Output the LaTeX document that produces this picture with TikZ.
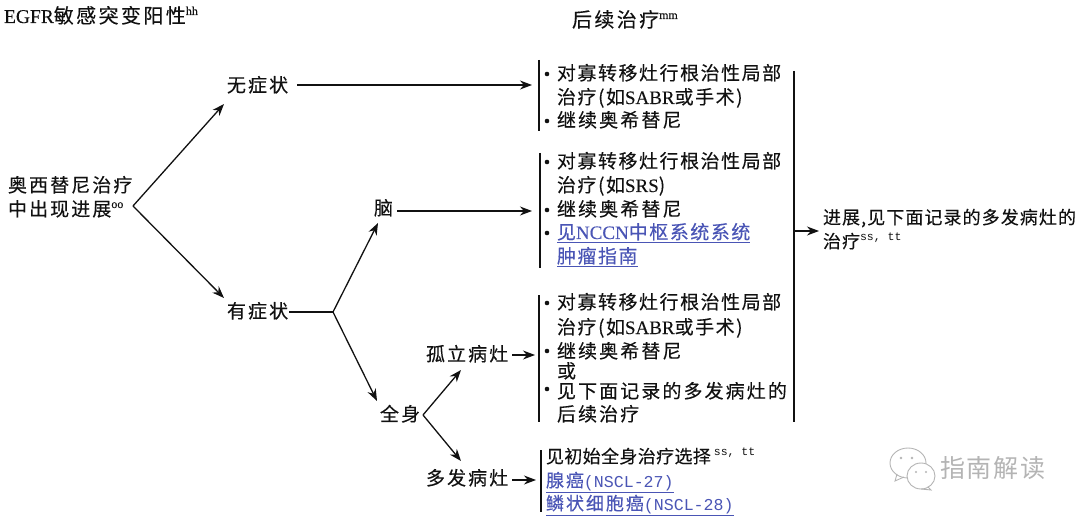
\documentclass[tikz,border=0pt]{standalone}
\usepackage{fontspec}
\setmainfont{Noto Sans CJK SC}[LetterSpace=8,FakeBold=0.25]
\newfontfamily\widecjk{Noto Sans CJK SC}[LetterSpace=11,FakeBold=0.25]
\newfontfamily\narrowcjk{Noto Sans CJK SC}[LetterSpace=6,FakeBold=0.25]
\newfontfamily\tightcjk{Noto Sans CJK SC}[LetterSpace=2,FakeBold=0.25]
\newfontfamily\headcjk{Noto Sans CJK SC}[LetterSpace=12,FakeBold=0.25]
\newfontfamily\wmcjk{Noto Sans CJK SC}[LetterSpace=7]
\newfontfamily\lat{Liberation Serif}[FakeBold=0.2]
\newfontfamily\mon{Liberation Mono}
\usetikzlibrary{arrows.meta}
\definecolor{linkblue}{HTML}{4A55B5}
\definecolor{ink}{HTML}{111111}
\definecolor{wm}{HTML}{B4B4B4}
\newcommand{\La}[1]{{\lat #1}}
\newcommand{\Mo}[1]{{\fontsize{16.6}{16.6}\selectfont\mon #1}}
\newcommand{\Sp}[1]{\raisebox{8pt}{\fontsize{12}{12}\selectfont\lat #1}}
\newcommand{\Sm}{\raisebox{8pt}{\fontsize{11.5}{11.5}\selectfont\mon ss, tt}}
\tikzset{
  x=1pt,y=-1pt,
  tx/.style={anchor=base west,inner sep=0pt,outer sep=0pt,text=ink,font=\fontsize{19}{19}\selectfont},
  txw/.style={tx,font=\fontsize{19}{19}\selectfont\widecjk},
  txn/.style={tx,font=\fontsize{18}{18}\selectfont\narrowcjk},
  txt/.style={tx,font=\fontsize{18}{18}\selectfont\tightcjk},
  head/.style={tx,font=\fontsize{20}{20}\selectfont\headcjk},
  lnk/.style={tx,text=linkblue},
  lnkt/.style={lnk,font=\fontsize{18}{18}\selectfont\widecjk},
  bul/.style={circle,fill=ink,inner sep=0pt,minimum size=4.6pt},
  bar/.style={draw=ink,line width=1.4pt},
  ln/.style={draw=ink,line width=1.3pt},
  arr/.style={ln,-{Stealth[length=12pt,width=9pt]}},
  wmtx/.style={anchor=base west,inner sep=0pt,text=wm,font=\fontsize{25}{25}\selectfont\wmcjk},
}
\begin{document}
\begin{tikzpicture}
\useasboundingbox (0,0) rectangle (1080,516);
% headers
\node[head] (h1) at (4,23) {\La{\fontsize{19.5}{19.5}\selectfont EGFR}敏感突变阳性\Sp{hh}};
\node[head] (h2) at (572,27) {后续治疗\Sp{mm}};
% left labels
\node[txw] (root1) at (8,192) {奥西替尼治疗};
\node[txw] (root2) at (8,216) {中出现进展\Sp{oo}};
\node[txw] (asym) at (227,92) {无症状};
\node[txw] (sym) at (227,318) {有症状};
\node[txw] (brain) at (374,215) {脑};
\node[txw] (sys) at (380,421) {全身};
\node[txw] (iso) at (426,361) {孤立病灶};
\node[txw] (multi) at (426,485) {多发病灶};
% group 1
\node[bul] (b1) at (547,74) {};
\node[tx] (a1) at (557,80) {对寡转移灶行根治性局部};
\node[tx] (a2) at (557,104) {治疗(如\La{SABR}或手术)};
\node[bul] (b2) at (547,121) {};
\node[txw] (a3) at (557,127) {继续奥希替尼};
% group 2
\node[bul] (b3) at (547,162) {};
\node[tx] (c1) at (557,168) {对寡转移灶行根治性局部};
\node[tx] (c2) at (557,192) {治疗(如\La{SRS})};
\node[bul] (b4) at (547,210) {};
\node[txw] (c3) at (557,216) {继续奥希替尼};
\node[bul] (b5) at (547,233) {};
\node[lnk] (c4) at (557,239) {\underline{见\La{NCCN}中枢系统系统}};
\node[lnk] (c5) at (557,263) {\underline{肿瘤指南}};
% group 3
\node[bul] (b6) at (547,303) {};
\node[tx] (d1) at (557,309) {对寡转移灶行根治性局部};
\node[tx] (d2) at (557,334) {治疗(如\La{SABR}或手术)};
\node[bul] (b7) at (547,351) {};
\node[txw] (d3) at (557,358) {继续奥希替尼};
\node[tx] (d4) at (557,378) {或};
\node[bul] (b8) at (547,389) {};
\node[txw] (d5) at (557,398) {见下面记录的多发病灶的};
\node[txw] (d6) at (557,421) {后续治疗};
% group 4
\node[txt] (e1) at (546,463) {见初始全身治疗选择\,\Sm};
\node[lnkt] (e2) at (546,487) {\underline{腺癌\Mo{(NSCL-27)}}};
\node[lnkt] (e3) at (546,510) {\underline{鳞状细胞癌\Mo{(NSCL-28)}}};
% right
\node[txn] (r1) at (823,224) {进展,见下面记录的多发病灶的};
\node[txn] (r2) at (823,248) {治疗\Sm};
% junctions
\coordinate (f0) at (133,206);
\coordinate (f1) at (333,312);
\coordinate (f2) at (423,415);
\coordinate (g1t) at (539,60);   \coordinate (g1b) at (539,131); \coordinate (g1m) at (532,85);
\coordinate (g2t) at (540,153);  \coordinate (g2b) at (540,268); \coordinate (g2m) at (532,211);
\coordinate (g3t) at (539,295);  \coordinate (g3b) at (539,422); \coordinate (g3m) at (535,355);
\coordinate (g4t) at (541,450);  \coordinate (g4b) at (541,512); \coordinate (g4m) at (536,480);
\coordinate (mt) at (794,71); \coordinate (mb) at (794,422); \coordinate (mm) at (794,231); \coordinate (mr) at (819,231);
\coordinate (s1) at (297,85); \coordinate (s2) at (397,211); \coordinate (s3) at (289,312);
\coordinate (s4) at (512,355); \coordinate (s5) at (512,480);
\coordinate (t1) at (224,104); \coordinate (t2) at (224,298); \coordinate (t3) at (378,223);
\coordinate (t4) at (377,401); \coordinate (t5) at (461,370); \coordinate (t6) at (461,461);
% connectors
\draw[bar] (g1t) -- (g1b);
\draw[bar] (g2t) -- (g2b);
\draw[bar] (g3t) -- (g3b);
\draw[bar] (g4t) -- (g4b);
\draw[bar] (mt) -- (mb);
\draw[arr] (mm) -- (mr);
\draw[arr] (f0) -- (t1);
\draw[arr] (f0) -- (t2);
\draw[arr] (s1) -- (g1m);
\draw[arr] (s2) -- (g2m);
\draw[ln] (s3) -- (f1);
\draw[arr] (f1) -- (t3);
\draw[arr] (f1) -- (t4);
\draw[arr] (f2) -- (t5);
\draw[arr] (f2) -- (t6);
\draw[arr] (s4) -- (g3m);
\draw[arr] (s5) -- (g4m);
% watermark
\draw[wm,line width=.9pt,fill=white] (908,463) ellipse [x radius=18,y radius=15];
\draw[wm,line width=.9pt] (897,474) -- (895,481) -- (904,477);
\draw[wm,line width=.9pt,fill=white] (921,476) ellipse [x radius=14,y radius=13];
\draw[wm,line width=.9pt] (928,487) -- (931,490) -- (921,489);
\fill[wm] (901,458) circle (1.3) (912,458) circle (1.3) (916,472) circle (1.1) (926,472) circle (1.1);
\node[wmtx] (wmt) at (940,477) {指南解读};
\end{tikzpicture}
\end{document}
